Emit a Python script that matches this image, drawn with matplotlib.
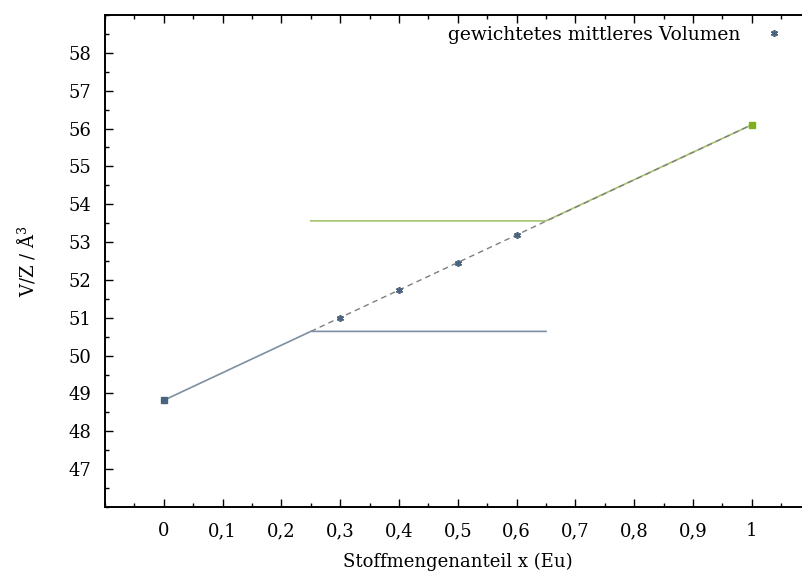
import matplotlib
matplotlib.use("Agg")
import matplotlib.pyplot as plt
from matplotlib.ticker import MultipleLocator, FixedLocator, FuncFormatter

plt.rcParams['font.family'] = ['DejaVu Serif']
plt.rcParams['mathtext.fontset'] = 'dejavuserif'

# end members (Eu fraction, V/Z)
x_ends = [0.0, 1.0]
v_ends = [48.82, 56.1]
# weighted mean volumes of the mixed compositions
x_mix = [0.3, 0.4, 0.5, 0.6]
v_mix = [51.0, 51.73, 52.46, 53.19]
# phase-boundary construction
x_blue = [0.0, 0.25, 0.65]
v_blue = [48.82, 50.64, 50.64]
x_green = [0.25, 0.65, 1.0]
v_green = [53.56, 53.56, 56.1]
x_vegard = [0.25, 1.0]
v_vegard = [50.64, 56.1]

xticks = [0, 0.1, 0.2, 0.3, 0.4, 0.5, 0.6, 0.7, 0.8, 0.9, 1.0]
yticks = list(range(47, 59))

W, H = 803, 575
fig = plt.figure(figsize=(W / 100, H / 100), dpi=100)
ax = fig.add_axes([105 / W, (H - 507) / H, 705.6 / W, (507 - 15) / H])
ax.set_xlim(-0.1, 1.1)
ax.set_ylim(46, 59)

c_blue = '#4a647e'
c_blue_line = '#7d8fa0'
c_green = '#7fae1e'
c_green_line = '#a6c46a'

ax.plot(x_green, v_green, color=c_green_line, lw=1.2, zorder=2)
ax.plot(x_vegard, v_vegard, color='#7f7f7f', lw=1.0, ls=(0, (4, 3)), zorder=3)
ax.plot(x_blue, v_blue, color=c_blue_line, lw=1.2, zorder=4)
ax.plot(x_ends[:1], v_ends[:1], ls='none', marker='s', ms=5, color=c_blue, zorder=5)
ax.plot(x_ends[1:], v_ends[1:], ls='none', marker='s', ms=5, color=c_green, zorder=5)
ax.plot(x_mix, v_mix, ls='none', marker=(6, 2, 0), ms=5, mew=1.2, color=c_blue,
        label='gewichtetes mittleres Volumen', zorder=6)

ax.spines['right'].set_visible(False)
for s in ('left', 'top', 'bottom'):
    ax.spines[s].set_linewidth(1.4)

ax.xaxis.set_major_locator(FixedLocator(xticks))
ax.xaxis.set_minor_locator(MultipleLocator(0.05))
ax.xaxis.set_major_formatter(FuncFormatter(lambda v, p: ('%g' % round(v, 2)).replace('.', ',')))
ax.yaxis.set_major_locator(FixedLocator(yticks))
ax.yaxis.set_minor_locator(MultipleLocator(0.5))

ax.tick_params(axis='x', which='both', direction='in', top=True, bottom=True, labelsize=13, pad=11)
ax.tick_params(axis='y', which='both', direction='in', left=True, right=False, labelsize=13, pad=10)
ax.tick_params(which='major', length=6, width=1)
ax.tick_params(which='minor', length=3, width=1)

ax.set_xlabel('Stoffmengenanteil x (Eu)', fontsize=13, labelpad=9)
ax.set_ylabel('V/Z / Å$^3$', fontsize=13, labelpad=22)

leg = ax.legend(loc='center left', bbox_to_anchor=(448 / W, (H - 35) / H), bbox_transform=fig.transFigure,
                frameon=False, fontsize=13.5, markerfirst=False, handlelength=1.2,
                handletextpad=1.2, borderaxespad=0, borderpad=0)
fig.savefig('out.png', dpi=100)
